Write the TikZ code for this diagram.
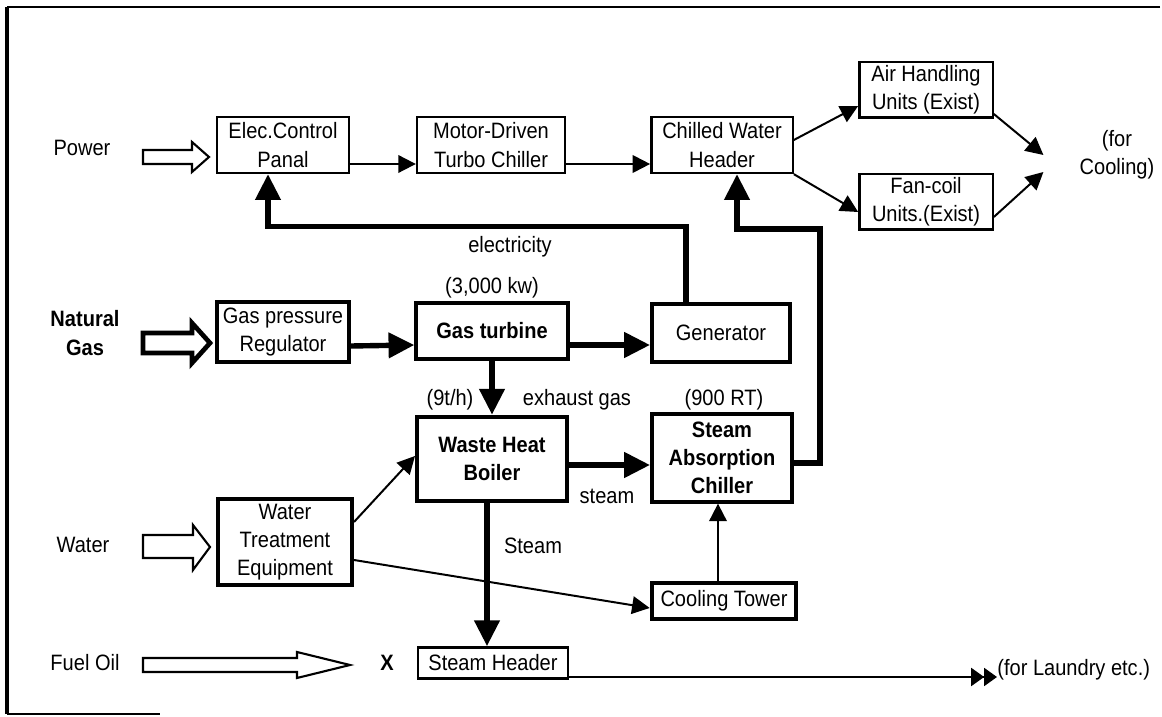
\documentclass[tikz,border=0pt]{standalone}
\usepackage{fontspec}
\setmainfont{Liberation Sans}[FakeStretch=0.9]
\usepackage{tikz}
\usetikzlibrary{positioning}
\usetikzlibrary{arrows.meta,calc}

\tikzset{
    box/.style={draw, line width=1pt, align=center, inner sep=1pt,
        font=\fontsize{9.5}{12}\selectfont},
    heavybox/.style={box, line width=1.7pt},
    lbl/.style={align=center, font=\fontsize{9.5}{12}\selectfont},
    thinarrow/.style={line width=0.85pt, -{Triangle[length=7.5pt,width=7.5pt]}},
    thickarrow/.style={line width=2.3pt, -{Triangle[length=11pt,width=10.5pt]}},
    dblarrow/.style={line width=0.7pt, -{Triangle[length=5.5pt,width=7.7pt]Triangle[length=5.5pt,width=7.7pt]}},
    hollow/.style={draw, line width=0.9pt, fill=white, line join=miter}
}

\begin{document}
\begin{tikzpicture}[x=0.015cm, y=-0.015cm]
    \useasboundingbox (0,0) rectangle (1162,717);
    % frame
    \draw[line width=0.8pt] (1160,7) -- (7,7);
    \draw[line width=1.3pt] (7,7) -- (7,714);
    \draw[line width=0.8pt] (7,714) -- (160,714);

    % sources
    \node[lbl] (power) at (82,148) {Power};
    \node[lbl, font=\fontsize{9.5}{12}\selectfont\bfseries] (natgas) at (85,333) {Natural\\Gas};
    \node[lbl] (water) at (83,545) {Water};
    \node[lbl] (fueloil) at (85,663) {Fuel Oil};
    \draw[hollow] (143,150) -- (192,150) -- (192,142) -- (209,157) -- (192,172) -- (192,164) -- (143,164) -- cycle;
    \draw[hollow, line width=2pt] (143,333) -- (192,333) -- (192,323) -- (210,343) -- (192,363) -- (192,353) -- (143,353) -- cycle;
    \draw[hollow] (143,535) -- (193,535) -- (193,525) -- (210,547) -- (193,570) -- (193,558) -- (143,558) -- cycle;
    \draw[hollow] (143,658) -- (297,658) -- (297,652) -- (350,665) -- (297,678) -- (297,672) -- (143,672) -- cycle;

    % boxes
    \node[box, minimum width=1.98cm, minimum height=0.84cm] (elec) at (283,145) {Elec.Control\\Panal};
    \node[box, minimum width=2.22cm, minimum height=0.84cm] (motor) at (491,145) {Motor-Driven\\Turbo Chiller};
    \node[box, minimum width=2.12cm, minimum height=0.84cm] (chwh) at (722,145) {Chilled Water\\Header};
    \node[box, minimum width=2.0cm, minimum height=0.83cm] (ahu) at (926,90) {Air Handling\\Units (Exist)};
    \node[box, minimum width=2.0cm, minimum height=0.83cm] (fcu) at (926,202) {Fan-coil\\Units.(Exist)};
    \node[lbl] (cool) at (1117,155) {(for\\Cooling)};
    \node[heavybox, minimum width=1.98cm, minimum height=0.9cm] (gpr) at (283,332) {Gas pressure\\Regulator};
    \node[heavybox, minimum width=2.27cm, minimum height=0.83cm, font=\fontsize{9.5}{12}\selectfont\bfseries] (gt) at (492,331) {Gas turbine};
    \node[heavybox, minimum width=2.07cm, minimum height=0.86cm] (gen) at (721,333) {Generator};
    \node[heavybox, minimum width=2.25cm, minimum height=1.27cm, font=\fontsize{9.5}{12}\selectfont\bfseries] (whb) at (492,459) {Waste Heat\\Boiler};
    \node[heavybox, minimum width=2.1cm, minimum height=1.31cm, font=\fontsize{9.5}{12}\selectfont\bfseries] (sac) at (722,458) {Steam\\Absorption\\Chiller};
    \node[heavybox, minimum width=2.01cm, minimum height=1.29cm] (wte) at (285,542) {Water\\Treatment\\Equipment};
    \node[heavybox, minimum width=2.17cm, minimum height=0.54cm] (ct) at (724,601) {Cooling Tower};
    \node[box, minimum width=2.25cm, minimum height=0.47cm] (sh) at (493,663) {Steam Header};
    \node[lbl, font=\fontsize{9.5}{12}\selectfont\bfseries] (xmark) at (387,663) {X};
    \node[lbl, anchor=west, inner sep=0pt] (laundry) at (997,670) {(for Laundry etc.)};

    % labels
    \node[lbl] (elecity) at (510,247) {electricity};
    \node[lbl] (kw) at (492,288) {(3,000 kw)};
    \node[lbl] (tph) at (450,400) {(9t/h)};
    \node[lbl] (exhaust) at (577,400) {exhaust gas};
    \node[lbl] (rt) at (724,400) {(900 RT)};
    \node[lbl] (steamlo) at (607,496) {steam};
    \node[lbl] (steamup) at (533,546) {Steam};

    % helper points
    \coordinate (coolup) at ($(cool.west)+(-28,0)$);
    \coordinate (cooldn) at ($(cool.west)+(-28,17)$);
    \coordinate (elout) at ($(gen.north west)+(36,0)$);
    \coordinate (elin) at ($(elec.south)+(-15,0)$);
    \coordinate (chout) at ($(sac.east)+(0,5)$);
    \coordinate (chin) at ($(chwh.south)+(15,0)$);
    \coordinate (ctup) at ($(ct.north)+(-6,0)$);
    \coordinate (stm) at ($(whb.south)+(-5,0)$);

    % thin flows
    \draw[thinarrow] ($(elec.east)+(0,19)$) -- ($(motor.west)+(0,19)$);
    \draw[thinarrow] ($(motor.east)+(0,19)$) -- ($(chwh.west)+(0,19)$);
    \draw[thinarrow] ($(chwh.east)+(0,-5)$) -- ($(ahu.west)+(0,16)$);
    \draw[thinarrow] (chwh.south east) -- ($(fcu.west)+(0,10)$);
    \draw[thinarrow] ($(ahu.east)+(0,24)$) -- (coolup);
    \draw[thinarrow] ($(fcu.east)+(0,15)$) -- (cooldn);
    \draw[thinarrow] ($(wte.east)+(0,-20)$) -- ($(whb.west)+(0,-3)$);
    \draw[thinarrow] ($(wte.east)+(0,18)$) -- ($(ct.west)+(0,7)$);
    \draw[thinarrow] (ctup) -- (ctup |- sac.south);
    \draw[dblarrow] ($(sh.east)+(0,14)$) -- ($(laundry.west)+(0,7)$);

    % thick flows
    \draw[thickarrow] ($(gpr.east)+(0,14)$) -- ($(gt.west)+(0,14)$);
    \draw[thickarrow] ($(gt.east)+(0,14)$) -- ($(gen.west)+(0,12)$);
    \draw[thickarrow] (gt.south) -- (whb.north);
    \draw[thickarrow] ($(whb.east)+(0,6)$) -- ($(sac.west)+(0,7)$);
    \draw[thickarrow] (stm) -- (stm |- sh.north);
    \draw[thickarrow] (elout) -- ++(0,-76) -| (elin);
    \draw[thickarrow] (chout) -- ++(26,0) -- ++(0,-234) -| (chin);
\end{tikzpicture}
\end{document}
